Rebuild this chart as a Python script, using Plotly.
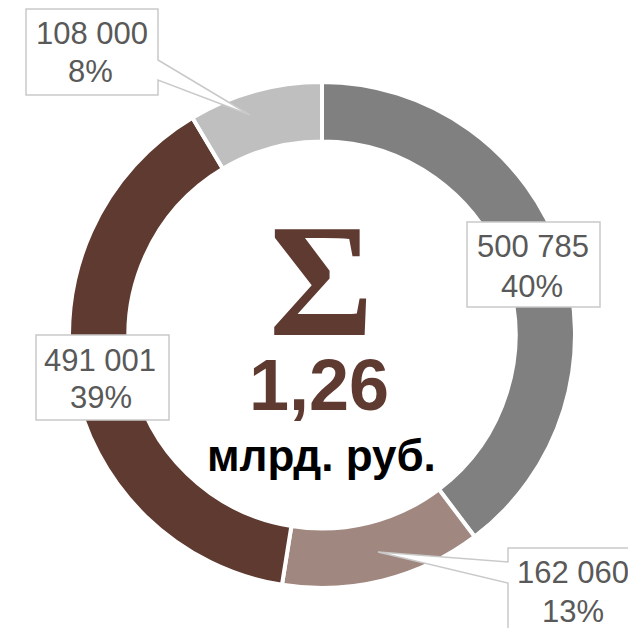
import plotly.graph_objects as go

W, H = 636, 628
OFF = 8  # page body margin in the browser

# Data
categories = ["A", "B", "C", "D"]
values = [500785, 162060, 491001, 108000]
value_labels = ["500 785", "162 060", "491 001", "108 000"]
pct_labels = ["40%", "13%", "39%", "8%"]
colors = ["#808080", "#a0877f", "#5e3a31", "#bfbfbf"]
total_label = "1,26"
unit_label = "млрд. руб."


def px(x, y):
    return (x - OFF) / W, 1 - (y - OFF) / H


# pie geometry (screen pixels)
cx, cy, R = 322, 335, 253

x0, y1 = px(cx - R, cy - R)
x1, y0 = px(cx + R, cy + R)

fig = go.Figure()
fig.add_trace(go.Pie(
    labels=categories, values=values, sort=False, direction="clockwise",
    rotation=0, hole=0.765, textinfo="none",
    marker=dict(colors=colors, line=dict(color="white", width=4)),
    domain=dict(x=[x0, x1], y=[y0, y1]),
    showlegend=False,
))

shapes = []
box_line = dict(color="#c9c9c9", width=1.5)


def path(points):
    s = ""
    for i, (x, y) in enumerate(points):
        X, Y = px(x, y)
        s += ("M" if i == 0 else "L") + f"{X:.5f},{Y:.5f} "
    return s + "Z"


# 108 000 callout box
shapes.append(dict(type="path", xref="paper", yref="paper",
                   path=path([(26, 9), (158, 9), (158, 60), (250, 115), (158, 80), (158, 95), (26, 95)]),
                   fillcolor="white", line=box_line, layer="above"))
# 500 785 box
shapes.append(dict(type="path", xref="paper", yref="paper",
                   path=path([(467, 222), (600, 222), (600, 307), (467, 307)]),
                   fillcolor="white", line=box_line, layer="above"))
# 491 001 box
shapes.append(dict(type="path", xref="paper", yref="paper",
                   path=path([(36, 335), (169, 335), (169, 420), (36, 420)]),
                   fillcolor="white", line=box_line, layer="above"))
# 162 060 callout box
shapes.append(dict(type="path", xref="paper", yref="paper",
                   path=path([(508, 548), (650, 548), (650, 650), (508, 650), (508, 583), (378, 552), (508, 562)]),
                   fillcolor="white", line=box_line, layer="above"))

annotations = []
label_font = dict(family="Liberation Sans, Arial", size=31, color="#595959")
# (x center, line1 y, line2 x, line2 y)
label_pos = {3: (92, 34, 90, 71), 0: (533, 246, 532, 286), 2: (100, 360, 101, 397), 1: (573, 572, 573, 611)}
for i, (xa, ya, xb, yb) in label_pos.items():
    X, Y = px(xa, ya)
    annotations.append(dict(x=X, y=Y, xref="paper", yref="paper", showarrow=False,
                            text=value_labels[i], font=label_font,
                            xanchor="center", yanchor="middle"))
    X, Y = px(xb, yb)
    annotations.append(dict(x=X, y=Y, xref="paper", yref="paper", showarrow=False,
                            text=pct_labels[i], font=label_font,
                            xanchor="center", yanchor="middle"))

X, Y = px(321, 281)
annotations.append(dict(x=X, y=Y, xref="paper", yref="paper", showarrow=False, text="<b>Σ</b>",
                        font=dict(family="Liberation Serif, Times New Roman", size=160, color="#5e3a31"),
                        xanchor="center", yanchor="middle"))
X, Y = px(319, 385)
annotations.append(dict(x=X, y=Y, xref="paper", yref="paper", showarrow=False, text=f"<b>{total_label}</b>",
                        font=dict(family="Liberation Sans, Arial", size=72, color="#5e3a31"),
                        xanchor="center", yanchor="middle"))
X, Y = px(321, 455)
annotations.append(dict(x=X, y=Y, xref="paper", yref="paper", showarrow=False, text=f"<b>{unit_label}</b>",
                        font=dict(family="Liberation Sans, Arial", size=44, color="#000000"),
                        xanchor="center", yanchor="middle"))

fig.update_layout(width=W, height=H, margin=dict(l=0, r=0, t=0, b=0),
                  paper_bgcolor="white", plot_bgcolor="white",
                  shapes=shapes, annotations=annotations, showlegend=False)

fig.write_html("out.html")
